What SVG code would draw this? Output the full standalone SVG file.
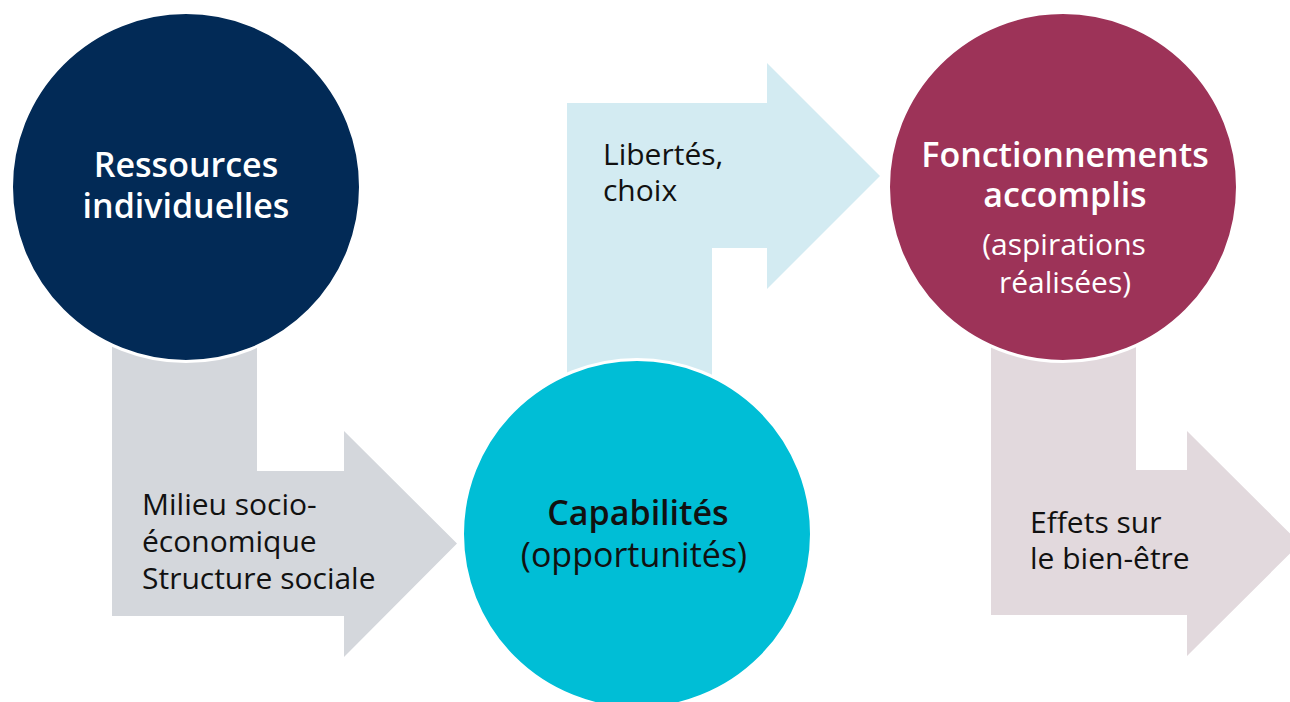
<svg xmlns="http://www.w3.org/2000/svg" width="1290" height="702" viewBox="0 0 1290 702">
<style>
text{font-family:"Open Sans","Noto Sans","Liberation Sans",sans-serif;}
.b{font-weight:600;}
.w{fill:#ffffff;}
.k{fill:#111111;}
.c{text-anchor:middle;}
.node{stroke:#ffffff;stroke-width:3;}
</style>
<rect width="1290" height="702" fill="#ffffff"/>
<g id="connectors">
<g id="arrow1">
<path d="M112,290 L257,290 L257,471 L344,471 L344,431 L457,543.5 L344,657 L344,616 L112,616 Z" fill="#d4d7dc"/>
<text class="k" font-size="30" x="142" y="515">Milieu socio-</text>
<text class="k" font-size="30" x="142" y="552">économique</text>
<text class="k" font-size="30" x="142" y="589">Structure sociale</text>
</g>
<g id="arrow2">
<path d="M567,420 L567,103 L767,103 L767,63 L880,176 L767,289 L767,248 L712,248 L712,420 Z" fill="#d3ebf2"/>
<text class="k" font-size="30" x="603" y="165">Libertés,</text>
<text class="k" font-size="30" x="603" y="201">choix</text>
</g>
<g id="arrow3">
<path d="M991,290 L1136,290 L1136,470 L1187,470 L1187,431 L1300,543.5 L1187,656 L1187,615 L991,615 Z" fill="#e2d9dd"/>
<text class="k" font-size="30" x="1030" y="533">Effets sur</text>
<text class="k" font-size="30" x="1030" y="569">le bien-être</text>
</g>
</g>
<g id="node1">
<circle class="node" cx="186" cy="187" r="174.5" fill="#022a56"/>
<text class="w b c" font-size="34" x="186" y="177">Ressources</text>
<text class="w b c" font-size="34" x="186" y="218">individuelles</text>
</g>
<g id="node2">
<circle class="node" cx="637" cy="534" r="174.5" fill="#00bed6"/>
<text class="k b c" font-size="34" x="638" y="525">Capabilités</text>
<text class="k c" font-size="34" x="634" y="567">(opportunités)</text>
</g>
<g id="node3">
<circle class="node" cx="1063" cy="187" r="174.5" fill="#9d3358"/>
<text class="w b c" font-size="34" x="1065" y="167">Fonctionnements</text>
<text class="w b c" font-size="34" x="1065" y="207">accomplis</text>
<text class="w c" font-size="30" x="1064" y="255">(aspirations</text>
<text class="w c" font-size="30" x="1065" y="293">réalisées)</text>
</g>
</svg>
